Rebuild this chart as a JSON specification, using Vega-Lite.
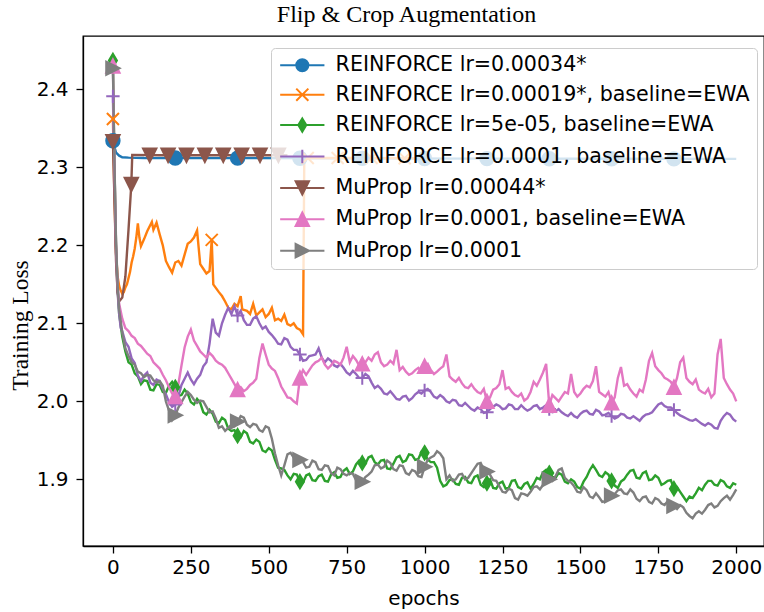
{
"$schema": "https://vega.github.io/schema/vega-lite/v6.json",
"width": 681, "height": 510,
"autosize": {"type": "none"},
"padding": {"left": 83, "top": 36, "right": 0, "bottom": 66},
"background": "white",
"title": {"text": "Flip & Crop Augmentation", "font": "Liberation Serif", "fontSize": 24, "fontWeight": "normal", "color": "black", "offset": 9, "dx": -17},
"config": {
 "view": {"stroke": "black", "strokeWidth": 1.3},
 "axis": {"grid": false, "domainColor": "black", "domainWidth": 1.3, "tickColor": "black", "tickWidth": 1.3, "tickSize": 7, "labelColor": "black", "labelFont": "DejaVu Sans", "labelFontSize": 20, "titleColor": "black", "titleFontWeight": "normal"},
 "legend": {"title": null, "orient": "none", "legendX": 188, "legendY": 12, "labelFont": "DejaVu Sans", "labelFontSize": 20.6, "labelColor": "black", "labelLimit": 600, "symbolSize": 180, "symbolStrokeWidth": 2, "symbolOpacity": 1, "symbolOffset": 14, "labelOffset": 23, "rowPadding": 8.4, "padding": 7, "strokeColor": "#cccccc", "fillColor": "rgba(255,255,255,0.8)", "cornerRadius": 4}
},
"datasets": {
"curves": [
{"run":"a","epoch":0,"loss":2.334},{"run":"a","epoch":5,"loss":2.326},{"run":"a","epoch":10,"loss":2.319},{"run":"a","epoch":20,"loss":2.315},{"run":"a","epoch":30,"loss":2.313},{"run":"a","epoch":50,"loss":2.3125},{"run":"a","epoch":100,"loss":2.312},{"run":"a","epoch":400,"loss":2.3118},{"run":"a","epoch":800,"loss":2.3115},{"run":"a","epoch":1200,"loss":2.3112},{"run":"a","epoch":1600,"loss":2.311},{"run":"a","epoch":2000,"loss":2.3108},
{"run":"b","epoch":0,"loss":2.362},{"run":"b","epoch":5,"loss":2.26},{"run":"b","epoch":10,"loss":2.19},{"run":"b","epoch":15,"loss":2.16},{"run":"b","epoch":20,"loss":2.148},{"run":"b","epoch":25,"loss":2.142},{"run":"b","epoch":30,"loss":2.138},{"run":"b","epoch":35,"loss":2.14},{"run":"b","epoch":40,"loss":2.146},{"run":"b","epoch":45,"loss":2.15},{"run":"b","epoch":50,"loss":2.158},{"run":"b","epoch":55,"loss":2.166},{"run":"b","epoch":60,"loss":2.178},{"run":"b","epoch":65,"loss":2.186},{"run":"b","epoch":70,"loss":2.196},{"run":"b","epoch":75,"loss":2.21},{"run":"b","epoch":80,"loss":2.228},{"run":"b","epoch":85,"loss":2.21},{"run":"b","epoch":90,"loss":2.199},{"run":"b","epoch":100,"loss":2.208},{"run":"b","epoch":110,"loss":2.218},{"run":"b","epoch":120,"loss":2.226},{"run":"b","epoch":125,"loss":2.23},{"run":"b","epoch":130,"loss":2.22},{"run":"b","epoch":140,"loss":2.229},{"run":"b","epoch":150,"loss":2.214},{"run":"b","epoch":160,"loss":2.2},{"run":"b","epoch":170,"loss":2.18},{"run":"b","epoch":180,"loss":2.172},{"run":"b","epoch":190,"loss":2.165},{"run":"b","epoch":200,"loss":2.178},{"run":"b","epoch":210,"loss":2.18},{"run":"b","epoch":220,"loss":2.174},{"run":"b","epoch":230,"loss":2.188},{"run":"b","epoch":240,"loss":2.202},{"run":"b","epoch":250,"loss":2.205},{"run":"b","epoch":260,"loss":2.21},{"run":"b","epoch":270,"loss":2.219},{"run":"b","epoch":280,"loss":2.176},{"run":"b","epoch":290,"loss":2.17},{"run":"b","epoch":300,"loss":2.164},{"run":"b","epoch":310,"loss":2.167},{"run":"b","epoch":317,"loss":2.207},{"run":"b","epoch":322,"loss":2.15},{"run":"b","epoch":340,"loss":2.14},{"run":"b","epoch":350,"loss":2.135},{"run":"b","epoch":360,"loss":2.128},{"run":"b","epoch":370,"loss":2.12},{"run":"b","epoch":380,"loss":2.118},{"run":"b","epoch":390,"loss":2.125},{"run":"b","epoch":400,"loss":2.122},{"run":"b","epoch":410,"loss":2.135},{"run":"b","epoch":415,"loss":2.118},{"run":"b","epoch":430,"loss":2.116},{"run":"b","epoch":440,"loss":2.112},{"run":"b","epoch":450,"loss":2.125},{"run":"b","epoch":460,"loss":2.11},{"run":"b","epoch":470,"loss":2.114},{"run":"b","epoch":480,"loss":2.118},{"run":"b","epoch":490,"loss":2.108},{"run":"b","epoch":500,"loss":2.112},{"run":"b","epoch":510,"loss":2.12},{"run":"b","epoch":520,"loss":2.104},{"run":"b","epoch":530,"loss":2.106},{"run":"b","epoch":540,"loss":2.103},{"run":"b","epoch":550,"loss":2.111},{"run":"b","epoch":560,"loss":2.099},{"run":"b","epoch":570,"loss":2.097},{"run":"b","epoch":580,"loss":2.1},{"run":"b","epoch":590,"loss":2.094},{"run":"b","epoch":600,"loss":2.092},{"run":"b","epoch":610,"loss":2.086},{"run":"b","epoch":614,"loss":2.312},{"run":"b","epoch":700,"loss":2.312},{"run":"b","epoch":800,"loss":2.312},{"run":"b","epoch":900,"loss":2.3118},{"run":"b","epoch":1000,"loss":2.3115},
{"run":"c","epoch":0,"loss":2.437},{"run":"c","epoch":5,"loss":2.3},{"run":"c","epoch":10,"loss":2.2},{"run":"c","epoch":15,"loss":2.145},{"run":"c","epoch":20,"loss":2.112},{"run":"c","epoch":30,"loss":2.083},{"run":"c","epoch":40,"loss":2.064},{"run":"c","epoch":50,"loss":2.05},{"run":"c","epoch":60,"loss":2.047},{"run":"c","epoch":70,"loss":2.036},{"run":"c","epoch":80,"loss":2.032},{"run":"c","epoch":90,"loss":2.022},{"run":"c","epoch":100,"loss":2.027},{"run":"c","epoch":120,"loss":2.015},{"run":"c","epoch":140,"loss":2.022},{"run":"c","epoch":160,"loss":2.012},{"run":"c","epoch":180,"loss":2.02},{"run":"c","epoch":200,"loss":2.018},{"run":"c","epoch":220,"loss":2.008},{"run":"c","epoch":240,"loss":2.01},{"run":"c","epoch":260,"loss":1.996},{"run":"c","epoch":280,"loss":1.998},{"run":"c","epoch":300,"loss":1.983},{"run":"c","epoch":320,"loss":1.984},{"run":"c","epoch":340,"loss":1.972},{"run":"c","epoch":360,"loss":1.976},{"run":"c","epoch":380,"loss":1.962},{"run":"c","epoch":400,"loss":1.956},{"run":"c","epoch":420,"loss":1.962},{"run":"c","epoch":440,"loss":1.948},{"run":"c","epoch":460,"loss":1.951},{"run":"c","epoch":480,"loss":1.937},{"run":"c","epoch":500,"loss":1.94},{"run":"c","epoch":520,"loss":1.925},{"run":"c","epoch":540,"loss":1.914},{"run":"c","epoch":560,"loss":1.905},{"run":"c","epoch":580,"loss":1.907},{"run":"c","epoch":600,"loss":1.897},{"run":"c","epoch":620,"loss":1.905},{"run":"c","epoch":640,"loss":1.899},{"run":"c","epoch":660,"loss":1.904},{"run":"c","epoch":680,"loss":1.898},{"run":"c","epoch":700,"loss":1.906},{"run":"c","epoch":720,"loss":1.902},{"run":"c","epoch":740,"loss":1.911},{"run":"c","epoch":760,"loss":1.907},{"run":"c","epoch":780,"loss":1.919},{"run":"c","epoch":800,"loss":1.921},{"run":"c","epoch":820,"loss":1.928},{"run":"c","epoch":840,"loss":1.922},{"run":"c","epoch":860,"loss":1.924},{"run":"c","epoch":880,"loss":1.914},{"run":"c","epoch":900,"loss":1.92},{"run":"c","epoch":920,"loss":1.93},{"run":"c","epoch":940,"loss":1.924},{"run":"c","epoch":960,"loss":1.931},{"run":"c","epoch":980,"loss":1.926},{"run":"c","epoch":1000,"loss":1.934},{"run":"c","epoch":1020,"loss":1.922},{"run":"c","epoch":1040,"loss":1.915},{"run":"c","epoch":1060,"loss":1.891},{"run":"c","epoch":1080,"loss":1.899},{"run":"c","epoch":1100,"loss":1.894},{"run":"c","epoch":1120,"loss":1.902},{"run":"c","epoch":1140,"loss":1.896},{"run":"c","epoch":1160,"loss":1.903},{"run":"c","epoch":1180,"loss":1.893},{"run":"c","epoch":1200,"loss":1.895},{"run":"c","epoch":1220,"loss":1.889},{"run":"c","epoch":1240,"loss":1.895},{"run":"c","epoch":1260,"loss":1.888},{"run":"c","epoch":1280,"loss":1.898},{"run":"c","epoch":1300,"loss":1.89},{"run":"c","epoch":1320,"loss":1.894},{"run":"c","epoch":1340,"loss":1.888},{"run":"c","epoch":1360,"loss":1.902},{"run":"c","epoch":1380,"loss":1.909},{"run":"c","epoch":1400,"loss":1.908},{"run":"c","epoch":1420,"loss":1.902},{"run":"c","epoch":1440,"loss":1.906},{"run":"c","epoch":1460,"loss":1.895},{"run":"c","epoch":1480,"loss":1.897},{"run":"c","epoch":1500,"loss":1.888},{"run":"c","epoch":1520,"loss":1.903},{"run":"c","epoch":1540,"loss":1.918},{"run":"c","epoch":1560,"loss":1.905},{"run":"c","epoch":1580,"loss":1.909},{"run":"c","epoch":1600,"loss":1.898},{"run":"c","epoch":1620,"loss":1.889},{"run":"c","epoch":1640,"loss":1.9},{"run":"c","epoch":1660,"loss":1.911},{"run":"c","epoch":1680,"loss":1.902},{"run":"c","epoch":1700,"loss":1.908},{"run":"c","epoch":1720,"loss":1.899},{"run":"c","epoch":1740,"loss":1.905},{"run":"c","epoch":1760,"loss":1.893},{"run":"c","epoch":1780,"loss":1.898},{"run":"c","epoch":1800,"loss":1.888},{"run":"c","epoch":1820,"loss":1.884},{"run":"c","epoch":1840,"loss":1.872},{"run":"c","epoch":1860,"loss":1.876},{"run":"c","epoch":1880,"loss":1.889},{"run":"c","epoch":1900,"loss":1.893},{"run":"c","epoch":1920,"loss":1.898},{"run":"c","epoch":1940,"loss":1.892},{"run":"c","epoch":1960,"loss":1.897},{"run":"c","epoch":1980,"loss":1.889},{"run":"c","epoch":2000,"loss":1.893},
{"run":"d","epoch":0,"loss":2.391},{"run":"d","epoch":5,"loss":2.28},{"run":"d","epoch":10,"loss":2.19},{"run":"d","epoch":15,"loss":2.14},{"run":"d","epoch":20,"loss":2.112},{"run":"d","epoch":25,"loss":2.094},{"run":"d","epoch":30,"loss":2.09},{"run":"d","epoch":40,"loss":2.076},{"run":"d","epoch":50,"loss":2.07},{"run":"d","epoch":60,"loss":2.055},{"run":"d","epoch":70,"loss":2.049},{"run":"d","epoch":80,"loss":2.033},{"run":"d","epoch":90,"loss":2.026},{"run":"d","epoch":100,"loss":2.033},{"run":"d","epoch":110,"loss":2.037},{"run":"d","epoch":120,"loss":2.024},{"run":"d","epoch":130,"loss":2.021},{"run":"d","epoch":140,"loss":2.028},{"run":"d","epoch":150,"loss":2.026},{"run":"d","epoch":160,"loss":2.016},{"run":"d","epoch":170,"loss":2.009},{"run":"d","epoch":180,"loss":1.999},{"run":"d","epoch":190,"loss":1.993},{"run":"d","epoch":200,"loss":1.996},{"run":"d","epoch":210,"loss":2.006},{"run":"d","epoch":220,"loss":2.021},{"run":"d","epoch":230,"loss":2.029},{"run":"d","epoch":240,"loss":2.037},{"run":"d","epoch":250,"loss":2.028},{"run":"d","epoch":260,"loss":2.022},{"run":"d","epoch":270,"loss":2.029},{"run":"d","epoch":280,"loss":2.034},{"run":"d","epoch":290,"loss":2.045},{"run":"d","epoch":300,"loss":2.05},{"run":"d","epoch":310,"loss":2.074},{"run":"d","epoch":320,"loss":2.106},{"run":"d","epoch":330,"loss":2.088},{"run":"d","epoch":340,"loss":2.084},{"run":"d","epoch":350,"loss":2.1},{"run":"d","epoch":360,"loss":2.111},{"run":"d","epoch":370,"loss":2.12},{"run":"d","epoch":380,"loss":2.112},{"run":"d","epoch":390,"loss":2.122},{"run":"d","epoch":400,"loss":2.11},{"run":"d","epoch":420,"loss":2.104},{"run":"d","epoch":440,"loss":2.098},{"run":"d","epoch":460,"loss":2.109},{"run":"d","epoch":480,"loss":2.093},{"run":"d","epoch":500,"loss":2.089},{"run":"d","epoch":520,"loss":2.08},{"run":"d","epoch":540,"loss":2.073},{"run":"d","epoch":560,"loss":2.079},{"run":"d","epoch":580,"loss":2.066},{"run":"d","epoch":600,"loss":2.06},{"run":"d","epoch":620,"loss":2.053},{"run":"d","epoch":640,"loss":2.059},{"run":"d","epoch":660,"loss":2.068},{"run":"d","epoch":680,"loss":2.05},{"run":"d","epoch":700,"loss":2.052},{"run":"d","epoch":720,"loss":2.044},{"run":"d","epoch":740,"loss":2.043},{"run":"d","epoch":760,"loss":2.034},{"run":"d","epoch":780,"loss":2.035},{"run":"d","epoch":800,"loss":2.03},{"run":"d","epoch":820,"loss":2.032},{"run":"d","epoch":840,"loss":2.017},{"run":"d","epoch":860,"loss":2.016},{"run":"d","epoch":880,"loss":2.009},{"run":"d","epoch":900,"loss":2.008},{"run":"d","epoch":920,"loss":2.002},{"run":"d","epoch":940,"loss":2.007},{"run":"d","epoch":960,"loss":2.004},{"run":"d","epoch":980,"loss":2.012},{"run":"d","epoch":1000,"loss":2.014},{"run":"d","epoch":1020,"loss":2.012},{"run":"d","epoch":1040,"loss":2.004},{"run":"d","epoch":1060,"loss":2.005},{"run":"d","epoch":1080,"loss":1.998},{"run":"d","epoch":1100,"loss":2.001},{"run":"d","epoch":1120,"loss":1.994},{"run":"d","epoch":1140,"loss":1.994},{"run":"d","epoch":1160,"loss":1.988},{"run":"d","epoch":1180,"loss":1.99},{"run":"d","epoch":1200,"loss":1.986},{"run":"d","epoch":1220,"loss":1.993},{"run":"d","epoch":1240,"loss":1.994},{"run":"d","epoch":1260,"loss":1.991},{"run":"d","epoch":1280,"loss":1.995},{"run":"d","epoch":1300,"loss":1.99},{"run":"d","epoch":1320,"loss":1.991},{"run":"d","epoch":1340,"loss":1.99},{"run":"d","epoch":1360,"loss":1.995},{"run":"d","epoch":1380,"loss":1.992},{"run":"d","epoch":1400,"loss":1.99},{"run":"d","epoch":1420,"loss":1.987},{"run":"d","epoch":1440,"loss":1.986},{"run":"d","epoch":1460,"loss":1.981},{"run":"d","epoch":1480,"loss":1.981},{"run":"d","epoch":1500,"loss":1.984},{"run":"d","epoch":1520,"loss":1.988},{"run":"d","epoch":1540,"loss":1.983},{"run":"d","epoch":1560,"loss":1.987},{"run":"d","epoch":1580,"loss":1.983},{"run":"d","epoch":1600,"loss":1.981},{"run":"d","epoch":1620,"loss":1.98},{"run":"d","epoch":1640,"loss":1.983},{"run":"d","epoch":1660,"loss":1.978},{"run":"d","epoch":1680,"loss":1.978},{"run":"d","epoch":1700,"loss":1.98},{"run":"d","epoch":1720,"loss":1.984},{"run":"d","epoch":1740,"loss":1.991},{"run":"d","epoch":1760,"loss":1.998},{"run":"d","epoch":1780,"loss":1.992},{"run":"d","epoch":1800,"loss":1.989},{"run":"d","epoch":1820,"loss":1.982},{"run":"d","epoch":1840,"loss":1.978},{"run":"d","epoch":1860,"loss":1.975},{"run":"d","epoch":1880,"loss":1.974},{"run":"d","epoch":1900,"loss":1.969},{"run":"d","epoch":1920,"loss":1.97},{"run":"d","epoch":1940,"loss":1.965},{"run":"d","epoch":1960,"loss":1.981},{"run":"d","epoch":1980,"loss":1.983},{"run":"d","epoch":2000,"loss":1.974},
{"run":"e","epoch":0,"loss":2.333},{"run":"e","epoch":5,"loss":2.26},{"run":"e","epoch":10,"loss":2.18},{"run":"e","epoch":15,"loss":2.14},{"run":"e","epoch":20,"loss":2.128},{"run":"e","epoch":30,"loss":2.133},{"run":"e","epoch":40,"loss":2.16},{"run":"e","epoch":50,"loss":2.22},{"run":"e","epoch":59,"loss":2.278},{"run":"e","epoch":62,"loss":2.316},{"run":"e","epoch":150,"loss":2.3155},{"run":"e","epoch":300,"loss":2.3155},{"run":"e","epoch":450,"loss":2.3155},{"run":"e","epoch":560,"loss":2.3155},
{"run":"f","epoch":0,"loss":2.43},{"run":"f","epoch":5,"loss":2.3},{"run":"f","epoch":10,"loss":2.2},{"run":"f","epoch":15,"loss":2.15},{"run":"f","epoch":20,"loss":2.125},{"run":"f","epoch":30,"loss":2.106},{"run":"f","epoch":40,"loss":2.094},{"run":"f","epoch":50,"loss":2.09},{"run":"f","epoch":60,"loss":2.084},{"run":"f","epoch":70,"loss":2.081},{"run":"f","epoch":80,"loss":2.074},{"run":"f","epoch":90,"loss":2.071},{"run":"f","epoch":100,"loss":2.066},{"run":"f","epoch":110,"loss":2.061},{"run":"f","epoch":120,"loss":2.058},{"run":"f","epoch":140,"loss":2.046},{"run":"f","epoch":160,"loss":2.034},{"run":"f","epoch":180,"loss":2.018},{"run":"f","epoch":190,"loss":2.01},{"run":"f","epoch":200,"loss":2.006},{"run":"f","epoch":210,"loss":2.022},{"run":"f","epoch":220,"loss":2.046},{"run":"f","epoch":230,"loss":2.069},{"run":"f","epoch":240,"loss":2.083},{"run":"f","epoch":250,"loss":2.092},{"run":"f","epoch":260,"loss":2.078},{"run":"f","epoch":270,"loss":2.071},{"run":"f","epoch":280,"loss":2.064},{"run":"f","epoch":300,"loss":2.056},{"run":"f","epoch":320,"loss":2.058},{"run":"f","epoch":340,"loss":2.049},{"run":"f","epoch":360,"loss":2.043},{"run":"f","epoch":380,"loss":2.029},{"run":"f","epoch":400,"loss":2.015},{"run":"f","epoch":420,"loss":2.013},{"run":"f","epoch":440,"loss":2.021},{"run":"f","epoch":460,"loss":2.029},{"run":"f","epoch":470,"loss":2.056},{"run":"f","epoch":480,"loss":2.074},{"run":"f","epoch":490,"loss":2.06},{"run":"f","epoch":500,"loss":2.047},{"run":"f","epoch":520,"loss":2.039},{"run":"f","epoch":540,"loss":2.019},{"run":"f","epoch":560,"loss":2.005},{"run":"f","epoch":580,"loss":2.0},{"run":"f","epoch":590,"loss":1.997},{"run":"f","epoch":600,"loss":2.03},{"run":"f","epoch":610,"loss":2.04},{"run":"f","epoch":620,"loss":2.034},{"run":"f","epoch":640,"loss":2.046},{"run":"f","epoch":660,"loss":2.052},{"run":"f","epoch":680,"loss":2.047},{"run":"f","epoch":700,"loss":2.046},{"run":"f","epoch":720,"loss":2.05},{"run":"f","epoch":740,"loss":2.056},{"run":"f","epoch":750,"loss":2.07},{"run":"f","epoch":760,"loss":2.05},{"run":"f","epoch":780,"loss":2.053},{"run":"f","epoch":800,"loss":2.048},{"run":"f","epoch":820,"loss":2.056},{"run":"f","epoch":840,"loss":2.06},{"run":"f","epoch":860,"loss":2.05},{"run":"f","epoch":880,"loss":2.047},{"run":"f","epoch":900,"loss":2.048},{"run":"f","epoch":910,"loss":2.066},{"run":"f","epoch":920,"loss":2.04},{"run":"f","epoch":940,"loss":2.038},{"run":"f","epoch":960,"loss":2.036},{"run":"f","epoch":980,"loss":2.043},{"run":"f","epoch":1000,"loss":2.045},{"run":"f","epoch":1020,"loss":2.04},{"run":"f","epoch":1040,"loss":2.038},{"run":"f","epoch":1060,"loss":2.045},{"run":"f","epoch":1070,"loss":2.06},{"run":"f","epoch":1080,"loss":2.032},{"run":"f","epoch":1100,"loss":2.025},{"run":"f","epoch":1120,"loss":2.023},{"run":"f","epoch":1140,"loss":2.017},{"run":"f","epoch":1160,"loss":2.016},{"run":"f","epoch":1180,"loss":2.01},{"run":"f","epoch":1200,"loss":2.0},{"run":"f","epoch":1220,"loss":2.015},{"run":"f","epoch":1240,"loss":2.022},{"run":"f","epoch":1250,"loss":2.04},{"run":"f","epoch":1260,"loss":2.016},{"run":"f","epoch":1280,"loss":2.012},{"run":"f","epoch":1300,"loss":2.006},{"run":"f","epoch":1320,"loss":2.001},{"run":"f","epoch":1340,"loss":2.012},{"run":"f","epoch":1360,"loss":2.02},{"run":"f","epoch":1380,"loss":2.037},{"run":"f","epoch":1390,"loss":2.048},{"run":"f","epoch":1400,"loss":1.995},{"run":"f","epoch":1420,"loss":2.004},{"run":"f","epoch":1440,"loss":2.006},{"run":"f","epoch":1460,"loss":2.01},{"run":"f","epoch":1470,"loss":2.035},{"run":"f","epoch":1480,"loss":2.012},{"run":"f","epoch":1500,"loss":2.01},{"run":"f","epoch":1520,"loss":2.02},{"run":"f","epoch":1540,"loss":2.026},{"run":"f","epoch":1550,"loss":2.045},{"run":"f","epoch":1560,"loss":2.012},{"run":"f","epoch":1580,"loss":2.006},{"run":"f","epoch":1600,"loss":1.998},{"run":"f","epoch":1620,"loss":2.03},{"run":"f","epoch":1630,"loss":2.044},{"run":"f","epoch":1640,"loss":2.02},{"run":"f","epoch":1660,"loss":2.015},{"run":"f","epoch":1680,"loss":2.006},{"run":"f","epoch":1700,"loss":2.012},{"run":"f","epoch":1720,"loss":2.052},{"run":"f","epoch":1730,"loss":2.062},{"run":"f","epoch":1740,"loss":2.045},{"run":"f","epoch":1760,"loss":2.036},{"run":"f","epoch":1780,"loss":2.028},{"run":"f","epoch":1800,"loss":2.018},{"run":"f","epoch":1820,"loss":2.05},{"run":"f","epoch":1840,"loss":2.03},{"run":"f","epoch":1860,"loss":2.022},{"run":"f","epoch":1880,"loss":2.015},{"run":"f","epoch":1900,"loss":2.01},{"run":"f","epoch":1920,"loss":2.005},{"run":"f","epoch":1940,"loss":2.06},{"run":"f","epoch":1950,"loss":2.08},{"run":"f","epoch":1960,"loss":2.03},{"run":"f","epoch":1980,"loss":2.015},{"run":"f","epoch":2000,"loss":2.0},
{"run":"g","epoch":0,"loss":2.427},{"run":"g","epoch":5,"loss":2.305},{"run":"g","epoch":10,"loss":2.205},{"run":"g","epoch":15,"loss":2.15},{"run":"g","epoch":20,"loss":2.118},{"run":"g","epoch":30,"loss":2.088},{"run":"g","epoch":40,"loss":2.068},{"run":"g","epoch":50,"loss":2.058},{"run":"g","epoch":60,"loss":2.05},{"run":"g","epoch":70,"loss":2.047},{"run":"g","epoch":80,"loss":2.038},{"run":"g","epoch":90,"loss":2.036},{"run":"g","epoch":100,"loss":2.031},{"run":"g","epoch":120,"loss":2.033},{"run":"g","epoch":140,"loss":2.024},{"run":"g","epoch":160,"loss":2.02},{"run":"g","epoch":170,"loss":2.0},{"run":"g","epoch":180,"loss":1.988},{"run":"g","epoch":190,"loss":1.976},{"run":"g","epoch":200,"loss":1.982},{"run":"g","epoch":210,"loss":1.992},{"run":"g","epoch":220,"loss":1.999},{"run":"g","epoch":240,"loss":2.012},{"run":"g","epoch":260,"loss":2.002},{"run":"g","epoch":280,"loss":2.001},{"run":"g","epoch":300,"loss":1.993},{"run":"g","epoch":320,"loss":1.987},{"run":"g","epoch":340,"loss":1.966},{"run":"g","epoch":360,"loss":1.962},{"run":"g","epoch":380,"loss":1.97},{"run":"g","epoch":400,"loss":1.974},{"run":"g","epoch":420,"loss":1.979},{"run":"g","epoch":440,"loss":1.967},{"run":"g","epoch":460,"loss":1.97},{"run":"g","epoch":480,"loss":1.961},{"run":"g","epoch":500,"loss":1.966},{"run":"g","epoch":520,"loss":1.933},{"run":"g","epoch":540,"loss":1.905},{"run":"g","epoch":560,"loss":1.932},{"run":"g","epoch":580,"loss":1.928},{"run":"g","epoch":600,"loss":1.925},{"run":"g","epoch":620,"loss":1.915},{"run":"g","epoch":640,"loss":1.924},{"run":"g","epoch":660,"loss":1.913},{"run":"g","epoch":680,"loss":1.918},{"run":"g","epoch":700,"loss":1.908},{"run":"g","epoch":720,"loss":1.915},{"run":"g","epoch":740,"loss":1.907},{"run":"g","epoch":760,"loss":1.908},{"run":"g","epoch":780,"loss":1.899},{"run":"g","epoch":800,"loss":1.897},{"run":"g","epoch":820,"loss":1.906},{"run":"g","epoch":840,"loss":1.918},{"run":"g","epoch":860,"loss":1.914},{"run":"g","epoch":880,"loss":1.924},{"run":"g","epoch":900,"loss":1.913},{"run":"g","epoch":920,"loss":1.918},{"run":"g","epoch":940,"loss":1.908},{"run":"g","epoch":960,"loss":1.912},{"run":"g","epoch":980,"loss":1.904},{"run":"g","epoch":1000,"loss":1.916},{"run":"g","epoch":1020,"loss":1.928},{"run":"g","epoch":1040,"loss":1.936},{"run":"g","epoch":1060,"loss":1.927},{"run":"g","epoch":1070,"loss":1.9},{"run":"g","epoch":1080,"loss":1.905},{"run":"g","epoch":1100,"loss":1.9},{"run":"g","epoch":1120,"loss":1.907},{"run":"g","epoch":1140,"loss":1.902},{"run":"g","epoch":1160,"loss":1.914},{"run":"g","epoch":1180,"loss":1.921},{"run":"g","epoch":1200,"loss":1.91},{"run":"g","epoch":1220,"loss":1.899},{"run":"g","epoch":1240,"loss":1.891},{"run":"g","epoch":1260,"loss":1.883},{"run":"g","epoch":1280,"loss":1.886},{"run":"g","epoch":1300,"loss":1.874},{"run":"g","epoch":1320,"loss":1.881},{"run":"g","epoch":1340,"loss":1.884},{"run":"g","epoch":1360,"loss":1.891},{"run":"g","epoch":1380,"loss":1.893},{"run":"g","epoch":1400,"loss":1.9},{"run":"g","epoch":1420,"loss":1.904},{"run":"g","epoch":1440,"loss":1.914},{"run":"g","epoch":1460,"loss":1.898},{"run":"g","epoch":1480,"loss":1.891},{"run":"g","epoch":1500,"loss":1.883},{"run":"g","epoch":1520,"loss":1.886},{"run":"g","epoch":1540,"loss":1.876},{"run":"g","epoch":1560,"loss":1.877},{"run":"g","epoch":1580,"loss":1.872},{"run":"g","epoch":1600,"loss":1.879},{"run":"g","epoch":1620,"loss":1.886},{"run":"g","epoch":1640,"loss":1.882},{"run":"g","epoch":1660,"loss":1.887},{"run":"g","epoch":1680,"loss":1.875},{"run":"g","epoch":1700,"loss":1.877},{"run":"g","epoch":1720,"loss":1.871},{"run":"g","epoch":1740,"loss":1.876},{"run":"g","epoch":1760,"loss":1.869},{"run":"g","epoch":1780,"loss":1.872},{"run":"g","epoch":1800,"loss":1.866},{"run":"g","epoch":1820,"loss":1.867},{"run":"g","epoch":1840,"loss":1.857},{"run":"g","epoch":1860,"loss":1.85},{"run":"g","epoch":1880,"loss":1.859},{"run":"g","epoch":1900,"loss":1.861},{"run":"g","epoch":1920,"loss":1.869},{"run":"g","epoch":1940,"loss":1.866},{"run":"g","epoch":1960,"loss":1.876},{"run":"g","epoch":1980,"loss":1.874},{"run":"g","epoch":2000,"loss":1.887},
{"run":"c","epoch":110,"loss":2.026},{"run":"c","epoch":130,"loss":2.014},{"run":"c","epoch":150,"loss":2.021},{"run":"c","epoch":170,"loss":2.011},{"run":"c","epoch":190,"loss":2.025},{"run":"c","epoch":210,"loss":2.007},{"run":"c","epoch":230,"loss":2.015},{"run":"c","epoch":250,"loss":1.999},{"run":"c","epoch":270,"loss":2.003},{"run":"c","epoch":290,"loss":1.986},{"run":"c","epoch":310,"loss":1.989},{"run":"c","epoch":330,"loss":1.974},{"run":"c","epoch":350,"loss":1.979},{"run":"c","epoch":370,"loss":1.965},{"run":"c","epoch":390,"loss":1.963},{"run":"c","epoch":410,"loss":1.954},{"run":"c","epoch":430,"loss":1.959},{"run":"c","epoch":450,"loss":1.946},{"run":"c","epoch":470,"loss":1.948},{"run":"c","epoch":490,"loss":1.935},{"run":"c","epoch":510,"loss":1.937},{"run":"c","epoch":530,"loss":1.915},{"run":"c","epoch":550,"loss":1.912},{"run":"c","epoch":570,"loss":1.9},{"run":"c","epoch":590,"loss":1.906},{"run":"c","epoch":610,"loss":1.896},{"run":"c","epoch":630,"loss":1.907},{"run":"c","epoch":650,"loss":1.898},{"run":"c","epoch":670,"loss":1.906},{"run":"c","epoch":690,"loss":1.897},{"run":"c","epoch":710,"loss":1.909},{"run":"c","epoch":730,"loss":1.903},{"run":"c","epoch":750,"loss":1.914},{"run":"c","epoch":770,"loss":1.91},{"run":"c","epoch":790,"loss":1.924},{"run":"c","epoch":810,"loss":1.92},{"run":"c","epoch":830,"loss":1.93},{"run":"c","epoch":850,"loss":1.919},{"run":"c","epoch":870,"loss":1.925},{"run":"c","epoch":890,"loss":1.913},{"run":"c","epoch":910,"loss":1.928},{"run":"c","epoch":930,"loss":1.922},{"run":"c","epoch":950,"loss":1.932},{"run":"c","epoch":970,"loss":1.925},{"run":"c","epoch":990,"loss":1.935},{"run":"c","epoch":1010,"loss":1.925},{"run":"c","epoch":1030,"loss":1.922},{"run":"c","epoch":1050,"loss":1.898},{"run":"c","epoch":1070,"loss":1.893},{"run":"c","epoch":1090,"loss":1.9},{"run":"c","epoch":1110,"loss":1.893},{"run":"c","epoch":1130,"loss":1.903},{"run":"c","epoch":1150,"loss":1.895},{"run":"c","epoch":1170,"loss":1.905},{"run":"c","epoch":1190,"loss":1.89},{"run":"c","epoch":1210,"loss":1.9},{"run":"c","epoch":1230,"loss":1.888},{"run":"c","epoch":1250,"loss":1.897},{"run":"c","epoch":1270,"loss":1.889},{"run":"c","epoch":1290,"loss":1.899},{"run":"c","epoch":1310,"loss":1.888},{"run":"c","epoch":1330,"loss":1.896},{"run":"c","epoch":1350,"loss":1.894},{"run":"c","epoch":1370,"loss":1.9},{"run":"c","epoch":1390,"loss":1.912},{"run":"c","epoch":1410,"loss":1.903},{"run":"c","epoch":1430,"loss":1.908},{"run":"c","epoch":1450,"loss":1.897},{"run":"c","epoch":1470,"loss":1.9},{"run":"c","epoch":1490,"loss":1.89},{"run":"c","epoch":1510,"loss":1.897},{"run":"c","epoch":1530,"loss":1.912},{"run":"c","epoch":1550,"loss":1.912},{"run":"c","epoch":1570,"loss":1.903},{"run":"c","epoch":1590,"loss":1.906},{"run":"c","epoch":1610,"loss":1.892},{"run":"c","epoch":1630,"loss":1.897},{"run":"c","epoch":1650,"loss":1.906},{"run":"c","epoch":1670,"loss":1.912},{"run":"c","epoch":1690,"loss":1.901},{"run":"c","epoch":1710,"loss":1.91},{"run":"c","epoch":1730,"loss":1.9},{"run":"c","epoch":1750,"loss":1.902},{"run":"c","epoch":1770,"loss":1.895},{"run":"c","epoch":1790,"loss":1.899},{"run":"c","epoch":1810,"loss":1.89},{"run":"c","epoch":1830,"loss":1.878},{"run":"c","epoch":1850,"loss":1.878},{"run":"c","epoch":1870,"loss":1.882},{"run":"c","epoch":1890,"loss":1.886},{"run":"c","epoch":1910,"loss":1.898},{"run":"c","epoch":1930,"loss":1.893},{"run":"c","epoch":1950,"loss":1.899},{"run":"c","epoch":1970,"loss":1.891},{"run":"c","epoch":1990,"loss":1.895},
{"run":"g","epoch":110,"loss":2.034},{"run":"g","epoch":130,"loss":2.027},{"run":"g","epoch":150,"loss":2.026},{"run":"g","epoch":230,"loss":2.006},{"run":"g","epoch":250,"loss":2.008},{"run":"g","epoch":270,"loss":1.998},{"run":"g","epoch":290,"loss":2.0},{"run":"g","epoch":310,"loss":1.986},{"run":"g","epoch":330,"loss":1.978},{"run":"g","epoch":350,"loss":1.968},{"run":"g","epoch":370,"loss":1.966},{"run":"g","epoch":390,"loss":1.968},{"run":"g","epoch":410,"loss":1.981},{"run":"g","epoch":430,"loss":1.97},{"run":"g","epoch":450,"loss":1.971},{"run":"g","epoch":470,"loss":1.963},{"run":"g","epoch":490,"loss":1.968},{"run":"g","epoch":510,"loss":1.952},{"run":"g","epoch":530,"loss":1.918},{"run":"g","epoch":550,"loss":1.918},{"run":"g","epoch":570,"loss":1.934},{"run":"g","epoch":590,"loss":1.922},{"run":"g","epoch":610,"loss":1.922},{"run":"g","epoch":630,"loss":1.916},{"run":"g","epoch":650,"loss":1.922},{"run":"g","epoch":670,"loss":1.912},{"run":"g","epoch":690,"loss":1.917},{"run":"g","epoch":710,"loss":1.905},{"run":"g","epoch":730,"loss":1.913},{"run":"g","epoch":750,"loss":1.905},{"run":"g","epoch":770,"loss":1.907},{"run":"g","epoch":790,"loss":1.895},{"run":"g","epoch":810,"loss":1.903},{"run":"g","epoch":830,"loss":1.91},{"run":"g","epoch":850,"loss":1.919},{"run":"g","epoch":870,"loss":1.916},{"run":"g","epoch":890,"loss":1.921},{"run":"g","epoch":910,"loss":1.911},{"run":"g","epoch":930,"loss":1.917},{"run":"g","epoch":950,"loss":1.906},{"run":"g","epoch":970,"loss":1.91},{"run":"g","epoch":990,"loss":1.903},{"run":"g","epoch":1010,"loss":1.925},{"run":"g","epoch":1030,"loss":1.93},{"run":"g","epoch":1050,"loss":1.933},{"run":"g","epoch":1090,"loss":1.898},{"run":"g","epoch":1110,"loss":1.906},{"run":"g","epoch":1130,"loss":1.9},{"run":"g","epoch":1150,"loss":1.908},{"run":"g","epoch":1170,"loss":1.92},{"run":"g","epoch":1190,"loss":1.912},{"run":"g","epoch":1210,"loss":1.906},{"run":"g","epoch":1230,"loss":1.898},{"run":"g","epoch":1250,"loss":1.884},{"run":"g","epoch":1270,"loss":1.888},{"run":"g","epoch":1290,"loss":1.876},{"run":"g","epoch":1310,"loss":1.882},{"run":"g","epoch":1330,"loss":1.879},{"run":"g","epoch":1350,"loss":1.89},{"run":"g","epoch":1370,"loss":1.887},{"run":"g","epoch":1390,"loss":1.898},{"run":"g","epoch":1410,"loss":1.898},{"run":"g","epoch":1430,"loss":1.912},{"run":"g","epoch":1450,"loss":1.902},{"run":"g","epoch":1470,"loss":1.896},{"run":"g","epoch":1490,"loss":1.884},{"run":"g","epoch":1510,"loss":1.89},{"run":"g","epoch":1530,"loss":1.878},{"run":"g","epoch":1550,"loss":1.882},{"run":"g","epoch":1570,"loss":1.871},{"run":"g","epoch":1590,"loss":1.878},{"run":"g","epoch":1610,"loss":1.881},{"run":"g","epoch":1630,"loss":1.887},{"run":"g","epoch":1650,"loss":1.881},{"run":"g","epoch":1670,"loss":1.883},{"run":"g","epoch":1690,"loss":1.872},{"run":"g","epoch":1710,"loss":1.878},{"run":"g","epoch":1730,"loss":1.869},{"run":"g","epoch":1750,"loss":1.874},{"run":"g","epoch":1770,"loss":1.867},{"run":"g","epoch":1790,"loss":1.871},{"run":"g","epoch":1810,"loss":1.862},{"run":"g","epoch":1830,"loss":1.864},{"run":"g","epoch":1850,"loss":1.853},{"run":"g","epoch":1870,"loss":1.856},{"run":"g","epoch":1890,"loss":1.856},{"run":"g","epoch":1910,"loss":1.867},{"run":"g","epoch":1930,"loss":1.864},{"run":"g","epoch":1950,"loss":1.872},{"run":"g","epoch":1970,"loss":1.879},{"run":"g","epoch":1990,"loss":1.88},
{"run":"d","epoch":410,"loss":2.116},{"run":"d","epoch":430,"loss":2.098},{"run":"d","epoch":450,"loss":2.106},{"run":"d","epoch":470,"loss":2.1},{"run":"d","epoch":490,"loss":2.096},{"run":"d","epoch":510,"loss":2.085},{"run":"d","epoch":530,"loss":2.074},{"run":"d","epoch":550,"loss":2.081},{"run":"d","epoch":570,"loss":2.07},{"run":"d","epoch":590,"loss":2.066},{"run":"d","epoch":610,"loss":2.052},{"run":"d","epoch":630,"loss":2.058},{"run":"d","epoch":650,"loss":2.06},{"run":"d","epoch":670,"loss":2.056},{"run":"d","epoch":690,"loss":2.055},{"run":"d","epoch":710,"loss":2.046},{"run":"d","epoch":730,"loss":2.048},{"run":"d","epoch":750,"loss":2.037},{"run":"d","epoch":770,"loss":2.039},{"run":"d","epoch":790,"loss":2.03},{"run":"d","epoch":810,"loss":2.035},{"run":"d","epoch":830,"loss":2.024},{"run":"d","epoch":850,"loss":2.02},{"run":"d","epoch":870,"loss":2.01},{"run":"d","epoch":890,"loss":2.013},{"run":"d","epoch":910,"loss":2.003},{"run":"d","epoch":930,"loss":2.006},{"run":"d","epoch":950,"loss":2.001},{"run":"d","epoch":970,"loss":2.009},{"run":"d","epoch":990,"loss":2.01},{"run":"d","epoch":1010,"loss":2.016},{"run":"d","epoch":1030,"loss":2.006},{"run":"d","epoch":1050,"loss":2.008},{"run":"d","epoch":1070,"loss":2.0},{"run":"d","epoch":1090,"loss":2.002},{"run":"d","epoch":1110,"loss":1.995},{"run":"d","epoch":1130,"loss":1.998},{"run":"d","epoch":1150,"loss":1.99},{"run":"d","epoch":1170,"loss":1.992},{"run":"d","epoch":1190,"loss":1.985},{"run":"d","epoch":1210,"loss":1.99},{"run":"d","epoch":1230,"loss":1.996},{"run":"d","epoch":1250,"loss":1.99},{"run":"d","epoch":1270,"loss":1.996},{"run":"d","epoch":1290,"loss":1.99},{"run":"d","epoch":1310,"loss":1.995},{"run":"d","epoch":1330,"loss":1.988},{"run":"d","epoch":1350,"loss":1.994},{"run":"d","epoch":1370,"loss":1.99},{"run":"d","epoch":1390,"loss":1.995},{"run":"d","epoch":1410,"loss":1.986},{"run":"d","epoch":1430,"loss":1.99},{"run":"d","epoch":1450,"loss":1.983},{"run":"d","epoch":1470,"loss":1.985},{"run":"d","epoch":1490,"loss":1.979},{"run":"d","epoch":1510,"loss":1.987},{"run":"d","epoch":1530,"loss":1.984},{"run":"d","epoch":1550,"loss":1.989},{"run":"d","epoch":1570,"loss":1.982},{"run":"d","epoch":1590,"loss":1.985},{"run":"d","epoch":1610,"loss":1.978},{"run":"d","epoch":1630,"loss":1.984},{"run":"d","epoch":1650,"loss":1.979},{"run":"d","epoch":1670,"loss":1.981},{"run":"d","epoch":1690,"loss":1.975},{"run":"d","epoch":1710,"loss":1.983},{"run":"d","epoch":1730,"loss":1.986},{"run":"d","epoch":1750,"loss":1.996},{"run":"d","epoch":1770,"loss":1.994},{"run":"d","epoch":1790,"loss":1.992},{"run":"d","epoch":1810,"loss":1.985},{"run":"d","epoch":1830,"loss":1.98},{"run":"d","epoch":1850,"loss":1.976},{"run":"d","epoch":1870,"loss":1.977},{"run":"d","epoch":1890,"loss":1.971},{"run":"d","epoch":1910,"loss":1.972},{"run":"d","epoch":1930,"loss":1.966},{"run":"d","epoch":1950,"loss":1.975},{"run":"d","epoch":1970,"loss":1.985},{"run":"d","epoch":1990,"loss":1.977},
{"run":"f","epoch":130,"loss":2.05},{"run":"f","epoch":150,"loss":2.042},{"run":"f","epoch":170,"loss":2.027},{"run":"f","epoch":290,"loss":2.06},{"run":"f","epoch":310,"loss":2.062},{"run":"f","epoch":330,"loss":2.052},{"run":"f","epoch":350,"loss":2.047},{"run":"f","epoch":370,"loss":2.036},{"run":"f","epoch":390,"loss":2.022},{"run":"f","epoch":410,"loss":2.018},{"run":"f","epoch":430,"loss":2.016},{"run":"f","epoch":450,"loss":2.024},{"run":"f","epoch":510,"loss":2.042},{"run":"f","epoch":530,"loss":2.03},{"run":"f","epoch":550,"loss":2.012},{"run":"f","epoch":570,"loss":2.004},{"run":"f","epoch":630,"loss":2.04},{"run":"f","epoch":650,"loss":2.05},{"run":"f","epoch":670,"loss":2.056},{"run":"f","epoch":690,"loss":2.042},{"run":"f","epoch":710,"loss":2.052},{"run":"f","epoch":730,"loss":2.047},{"run":"f","epoch":770,"loss":2.058},{"run":"f","epoch":790,"loss":2.046},{"run":"f","epoch":810,"loss":2.05},{"run":"f","epoch":830,"loss":2.052},{"run":"f","epoch":850,"loss":2.063},{"run":"f","epoch":870,"loss":2.045},{"run":"f","epoch":890,"loss":2.052},{"run":"f","epoch":930,"loss":2.044},{"run":"f","epoch":950,"loss":2.034},{"run":"f","epoch":970,"loss":2.04},{"run":"f","epoch":990,"loss":2.038},{"run":"f","epoch":1010,"loss":2.048},{"run":"f","epoch":1030,"loss":2.035},{"run":"f","epoch":1050,"loss":2.042},{"run":"f","epoch":1090,"loss":2.028},{"run":"f","epoch":1110,"loss":2.03},{"run":"f","epoch":1130,"loss":2.018},{"run":"f","epoch":1150,"loss":2.022},{"run":"f","epoch":1170,"loss":2.012},{"run":"f","epoch":1190,"loss":2.016},{"run":"f","epoch":1210,"loss":2.005},{"run":"f","epoch":1230,"loss":2.017},{"run":"f","epoch":1270,"loss":2.018},{"run":"f","epoch":1290,"loss":2.008},{"run":"f","epoch":1310,"loss":2.01},{"run":"f","epoch":1330,"loss":2.004},{"run":"f","epoch":1350,"loss":2.025},{"run":"f","epoch":1370,"loss":2.028},{"run":"f","epoch":1410,"loss":2.008},{"run":"f","epoch":1430,"loss":2.0},{"run":"f","epoch":1450,"loss":2.012},{"run":"f","epoch":1490,"loss":2.006},{"run":"f","epoch":1510,"loss":2.016},{"run":"f","epoch":1530,"loss":2.018},{"run":"f","epoch":1570,"loss":2.009},{"run":"f","epoch":1590,"loss":2.012},{"run":"f","epoch":1610,"loss":2.005},{"run":"f","epoch":1650,"loss":2.022},{"run":"f","epoch":1670,"loss":2.01},{"run":"f","epoch":1690,"loss":2.015},{"run":"f","epoch":1710,"loss":2.028},{"run":"f","epoch":1750,"loss":2.04},{"run":"f","epoch":1770,"loss":2.03},{"run":"f","epoch":1790,"loss":2.025},{"run":"f","epoch":1810,"loss":2.03},{"run":"f","epoch":1830,"loss":2.056},{"run":"f","epoch":1850,"loss":2.025},{"run":"f","epoch":1870,"loss":2.028},{"run":"f","epoch":1890,"loss":2.012},{"run":"f","epoch":1910,"loss":2.016},{"run":"f","epoch":1930,"loss":2.01},{"run":"f","epoch":1970,"loss":2.022},{"run":"f","epoch":1990,"loss":2.01}
],
"markers": [
{"run":"a","epoch":0,"loss":2.334},{"run":"a","epoch":200,"loss":2.312},{"run":"a","epoch":400,"loss":2.3118},{"run":"a","epoch":600,"loss":2.3117},{"run":"a","epoch":800,"loss":2.3115},{"run":"a","epoch":1000,"loss":2.3114},{"run":"a","epoch":1200,"loss":2.3112},{"run":"a","epoch":1400,"loss":2.3111},{"run":"a","epoch":1600,"loss":2.311},{"run":"a","epoch":1800,"loss":2.3109},
{"run":"b","epoch":0,"loss":2.362},{"run":"b","epoch":317,"loss":2.207},{"run":"b","epoch":625,"loss":2.312},{"run":"b","epoch":721,"loss":2.312},{"run":"b","epoch":830,"loss":2.312},{"run":"b","epoch":936,"loss":2.3118},
{"run":"c","epoch":0,"loss":2.437},{"run":"c","epoch":200,"loss":2.018},{"run":"c","epoch":400,"loss":1.956},{"run":"c","epoch":600,"loss":1.897},{"run":"c","epoch":800,"loss":1.921},{"run":"c","epoch":1000,"loss":1.934},{"run":"c","epoch":1200,"loss":1.895},{"run":"c","epoch":1400,"loss":1.908},{"run":"c","epoch":1600,"loss":1.898},{"run":"c","epoch":1800,"loss":1.888},
{"run":"d","epoch":0,"loss":2.391},{"run":"d","epoch":200,"loss":1.996},{"run":"d","epoch":400,"loss":2.11},{"run":"d","epoch":600,"loss":2.06},{"run":"d","epoch":800,"loss":2.03},{"run":"d","epoch":1000,"loss":2.014},{"run":"d","epoch":1200,"loss":1.986},{"run":"d","epoch":1400,"loss":1.99},{"run":"d","epoch":1600,"loss":1.981},{"run":"d","epoch":1800,"loss":1.989},
{"run":"e","epoch":0,"loss":2.333},{"run":"e","epoch":59,"loss":2.278},{"run":"e","epoch":118,"loss":2.3155},{"run":"e","epoch":177,"loss":2.3155},{"run":"e","epoch":236,"loss":2.3155},{"run":"e","epoch":295,"loss":2.3155},{"run":"e","epoch":354,"loss":2.3155},{"run":"e","epoch":413,"loss":2.3155},{"run":"e","epoch":472,"loss":2.3155},{"run":"e","epoch":531,"loss":2.3155},
{"run":"f","epoch":0,"loss":2.43},{"run":"f","epoch":200,"loss":2.006},{"run":"f","epoch":400,"loss":2.015},{"run":"f","epoch":600,"loss":2.03},{"run":"f","epoch":800,"loss":2.048},{"run":"f","epoch":1000,"loss":2.045},{"run":"f","epoch":1200,"loss":2.0},{"run":"f","epoch":1400,"loss":1.995},{"run":"f","epoch":1600,"loss":1.998},{"run":"f","epoch":1800,"loss":2.018},
{"run":"g","epoch":0,"loss":2.427},{"run":"g","epoch":200,"loss":1.982},{"run":"g","epoch":400,"loss":1.974},{"run":"g","epoch":600,"loss":1.925},{"run":"g","epoch":800,"loss":1.897},{"run":"g","epoch":1000,"loss":1.916},{"run":"g","epoch":1200,"loss":1.91},{"run":"g","epoch":1400,"loss":1.9},{"run":"g","epoch":1600,"loss":1.879},{"run":"g","epoch":1800,"loss":1.866}
]
},
"resolve": {"scale": {"fill": "independent", "stroke": "independent", "shape": "independent"}, "legend": {"fill": "independent", "stroke": "independent", "shape": "independent"}},
"layer": [
{
 "data": {"name": "curves"},
 "mark": {"type": "line", "strokeWidth": 2.4, "clip": true},
 "encoding": {
  "x": {"field": "epoch", "type": "quantitative", "scale": {"domain": [-96, 2089], "nice": false, "zero": false},
        "axis": {"values": [0,250,500,750,1000,1250,1500,1750,2000], "format": "d", "title": "epochs", "titleFont": "DejaVu Sans", "titleFontSize": 20, "labelPadding": 4, "titlePadding": 11, "labelFlush": false}},
  "y": {"field": "loss", "type": "quantitative", "scale": {"domain": [1.8145, 2.4684], "nice": false, "zero": false},
        "axis": {"values": [1.9,2.0,2.1,2.2,2.3,2.4], "format": ".1f", "title": "Training Loss", "titleFont": "Liberation Serif", "titleFontSize": 23.5, "labelPadding": 8, "titleX": -63, "titleY": 289, "titleBaseline": "middle", "titleAngle": -90}},
  "color": {"field": "run", "type": "nominal", "scale": {"domain": ["a","b","c","d","e","f","g"], "range": ["#1f77b4","#ff7f0e","#2ca02c","#9467bd","#8c564b","#e377c2","#7f7f7f"]}, "legend": null}
 }
},
{
 "data": {"name": "markers"},
 "mark": {"type": "point", "filled": true, "opacity": 1, "size": 180, "strokeWidth": 2, "clip": true},
 "encoding": {
  "x": {"field": "epoch", "type": "quantitative"},
  "y": {"field": "loss", "type": "quantitative"},
  "fill": {"field": "run", "type": "nominal", "scale": {"domain": ["a","b","c","d","e","f","g"], "range": ["#1f77b4","#ff7f0e","#2ca02c","#9467bd","#8c564b","#e377c2","#7f7f7f"]}, "legend": null},
  "stroke": {"field": "run", "type": "nominal", "scale": {"domain": ["a","b","c","d","e","f","g"], "range": ["#1f77b4","#ff7f0e","#2ca02c","#9467bd","#8c564b","#e377c2","#7f7f7f"]}, "legend": null},
  "shape": {"field": "run", "type": "nominal", "scale": {"domain": ["a","b","c","d","e","f","g"], "range": ["circle","M-0.9,-0.9L0.9,0.9M-0.9,0.9L0.9,-0.9","M0,-1L0.6,0L0,1L-0.6,0Z","M-1,0L1,0M0,-1L0,1","M-1,-1L1,-1L0,1Z","M-1,1L1,1L0,-1Z","M-1,-1L1,0L-1,1Z"]}, "legend": null}
 }
},
{
 "data": {"name": "markers"},
 "transform": [{"filter": "datum.epoch === 0"}],
 "mark": {"type": "point", "filled": true, "opacity": 0, "size": 180, "strokeWidth": 2},
 "encoding": {
  "x": {"field": "epoch", "type": "quantitative"},
  "y": {"field": "loss", "type": "quantitative"},
  "fill": {"field": "run", "type": "nominal", "scale": {"domain": ["a","b","c","d","e","f","g"], "range": ["#1f77b4","#ff7f0e","#2ca02c","#9467bd","#8c564b","#e377c2","#7f7f7f"]},
    "legend": {"labelExpr": "datum.value === 'a' ? 'REINFORCE lr=0.00034*' : datum.value === 'b' ? 'REINFORCE lr=0.00019*, baseline=EWA' : datum.value === 'c' ? 'REINFORCE lr=5e-05, baseline=EWA' : datum.value === 'd' ? 'REINFORCE lr=0.0001, baseline=EWA' : datum.value === 'e' ? 'MuProp lr=0.00044*' : datum.value === 'f' ? 'MuProp lr=0.0001, baseline=EWA' : 'MuProp lr=0.0001'"}},
  "stroke": {"field": "run", "type": "nominal", "scale": {"domain": ["a","b","c","d","e","f","g"], "range": ["#1f77b4","#ff7f0e","#2ca02c","#9467bd","#8c564b","#e377c2","#7f7f7f"]},
    "legend": {"labelExpr": "datum.value === 'a' ? 'REINFORCE lr=0.00034*' : datum.value === 'b' ? 'REINFORCE lr=0.00019*, baseline=EWA' : datum.value === 'c' ? 'REINFORCE lr=5e-05, baseline=EWA' : datum.value === 'd' ? 'REINFORCE lr=0.0001, baseline=EWA' : datum.value === 'e' ? 'MuProp lr=0.00044*' : datum.value === 'f' ? 'MuProp lr=0.0001, baseline=EWA' : 'MuProp lr=0.0001'"}},
  "shape": {"field": "run", "type": "nominal", "scale": {"domain": ["a","b","c","d","e","f","g"], "range": ["M-3.3,0L3.3,0M-0.9,0A0.9,0.9,0,1,0,0.9,0A0.9,0.9,0,1,0,-0.9,0Z","M-3.3,0L3.3,0M-0.9,-0.9L0.9,0.9M-0.9,0.9L0.9,-0.9","M-3.3,0L3.3,0M0,-1L0.6,0L0,1L-0.6,0Z","M-3.3,0L3.3,0M0,-1L0,1","M-3.3,0L3.3,0M-1,-1L1,-1L0,1Z","M-3.3,0L3.3,0M-1,1L1,1L0,-1Z","M-3.3,0L3.3,0M-1,-1L1,0L-1,1Z"]},
    "legend": {"labelExpr": "datum.value === 'a' ? 'REINFORCE lr=0.00034*' : datum.value === 'b' ? 'REINFORCE lr=0.00019*, baseline=EWA' : datum.value === 'c' ? 'REINFORCE lr=5e-05, baseline=EWA' : datum.value === 'd' ? 'REINFORCE lr=0.0001, baseline=EWA' : datum.value === 'e' ? 'MuProp lr=0.00044*' : datum.value === 'f' ? 'MuProp lr=0.0001, baseline=EWA' : 'MuProp lr=0.0001'"}}
 }
}
]
}
